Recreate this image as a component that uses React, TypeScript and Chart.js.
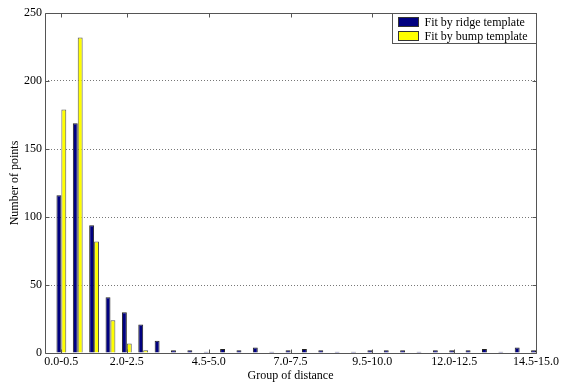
import React, { useEffect, useRef } from "react";
import { Chart, registerables } from "chart.js";

Chart.register(...registerables);

const categories = [
  "0.0-0.5", "0.5-1.0", "1.0-1.5", "1.5-2.0", "2.0-2.5", "2.5-3.0",
  "3.0-3.5", "3.5-4.0", "4.0-4.5", "4.5-5.0", "5.0-5.5", "5.5-6.0",
  "6.0-6.5", "6.5-7.0", "7.0-7.5", "7.5-8.0", "8.0-8.5", "8.5-9.0",
  "9.0-9.5", "9.5-10.0", "10.0-10.5", "10.5-11.0", "11.0-11.5", "11.5-12.0",
  "12.0-12.5", "12.5-13.0", "13.0-13.5", "13.5-14.0", "14.0-14.5", "14.5-15.0",
];
const ridgeCounts = [116, 169, 94, 41, 30, 21, 9, 2, 2, 1, 3, 2, 4, 1, 2, 3, 2, 1, 1, 2, 2, 2, 1, 2, 2, 2, 3, 1, 4, 2];
const bumpCounts = [179, 232, 82, 24, 7, 2, 0, 0, 0, 0, 0, 0, 0, 0, 0, 0, 0, 0, 0, 0, 0, 0, 0, 0, 0, 0, 0, 0, 0, 0];
const xTickPositions = [1, 5, 10, 15, 20, 25, 30];
const yTickValues = [0, 50, 100, 150, 200, 250];
const seriesLabels = ["Fit by ridge template", "Fit by bump template"];

const FONT = "'Liberation Serif', 'Times New Roman', serif";

const framePlugin = {
  id: "frame",
  afterDatasetsDraw(chart: any) {
    const { ctx, chartArea } = chart;
    const { left, right, top, bottom } = chartArea;
    const xs = chart.scales.x;
    const ys = chart.scales.y;
    ctx.save();
    ctx.strokeStyle = "#555";
    ctx.lineWidth = 1;
    ctx.setLineDash([]);
    ctx.beginPath();
    const L = Math.round(left) + 0.5;
    const R = Math.round(right) + 0.5;
    const T = Math.round(top) + 0.5;
    const B = Math.round(bottom) + 0.5;
    ctx.rect(L, T, R - L, B - T);
    const tl = 4;
    yTickValues.forEach((v) => {
      const y = Math.round(ys.getPixelForValue(v)) + 0.5;
      ctx.moveTo(L, y);
      ctx.lineTo(L + tl, y);
      ctx.moveTo(R, y);
      ctx.lineTo(R - tl, y);
    });
    xTickPositions.forEach((v) => {
      const x = Math.round(xs.getPixelForValue(v)) + 0.5;
      ctx.moveTo(x, B);
      ctx.lineTo(x, B - tl);
      ctx.moveTo(x, T);
      ctx.lineTo(x, T + tl);
    });
    ctx.stroke();
    ctx.restore();
  },
  afterDraw(chart: any) {
    const { ctx, chartArea } = chart;
    const boxR = Math.round(chartArea.right) + 0.5;
    const boxT = Math.round(chartArea.top) + 0.5;
    const boxW = 144;
    const boxH = 30;
    const boxL = boxR - boxW;
    ctx.save();
    ctx.fillStyle = "#fff";
    ctx.fillRect(boxL, boxT, boxW, boxH);
    ctx.strokeStyle = "#555";
    ctx.lineWidth = 1;
    ctx.strokeRect(boxL, boxT, boxW, boxH);
    ctx.font = "12px " + FONT;
    ctx.textBaseline = "middle";
    ctx.textAlign = "left";
    chart.data.datasets.forEach((ds: any, i: number) => {
      const sy = boxT + 4 + i * 14;
      ctx.fillStyle = ds.backgroundColor;
      ctx.fillRect(boxL + 6, sy, 20, 9);
      ctx.strokeStyle = "#333";
      ctx.strokeRect(boxL + 6, sy, 20, 9);
      ctx.fillStyle = "#000";
      ctx.fillText(ds.label, boxL + 32, sy + 5);
    });
    ctx.restore();
  },
};

export default function App() {
  const ref = useRef<HTMLCanvasElement>(null);
  useEffect(() => {
    if (!ref.current) return;
    const chart = new Chart(ref.current, {
      type: "bar",
      data: {
        datasets: [
          {
            label: seriesLabels[0],
            data: ridgeCounts.map((v, i) => ({ x: i + 1, y: v })),
            backgroundColor: "#000080",
            borderColor: "#222",
            borderWidth: 1,
            categoryPercentage: 0.6,
            barPercentage: 1,
          },
          {
            label: seriesLabels[1],
            data: bumpCounts.map((v, i) => ({ x: i + 1, y: v })),
            backgroundColor: "#ffff00",
            borderColor: "#555",
            borderWidth: 1,
            categoryPercentage: 0.6,
            barPercentage: 1,
          },
        ],
      },
      options: {
        animation: false,
        responsive: false,
        devicePixelRatio: 1,
        layout: { padding: { top: 13, right: 24, left: 0, bottom: 0 } },
        plugins: { legend: { display: false }, tooltip: { enabled: false } },
        scales: {
          x: {
            type: "linear",
            offset: false,
            min: 0,
            max: 30,
            afterBuildTicks: (s: any) => {
              s.ticks = xTickPositions.map((v) => ({ value: v }));
            },
            afterFit: (s: any) => {
              s.height = 30;
            },
            ticks: {
              autoSkip: false,
              maxRotation: 0,
              padding: 2,
              color: "#000",
              font: { family: FONT, size: 12 },
              callback: (v: any) => categories[Number(v) - 1] ?? "",
            },
            grid: { display: false, drawTicks: false, offset: false },
            border: { display: false },
            title: {
              display: true,
              text: "Group of distance",
              color: "#000",
              font: { family: FONT, size: 12 },
              padding: 0,
            },
          },
          y: {
            min: 0,
            max: 250,
            afterBuildTicks: (s: any) => {
              s.ticks = yTickValues.map((v) => ({ value: v }));
            },
            afterFit: (s: any) => {
              s.width = 45;
            },
            ticks: {
              padding: 3,
              color: "#000",
              font: { family: FONT, size: 12 },
            },
            grid: {
              drawTicks: false,
              color: (c: any) =>
                c.tick && (c.tick.value === 0 || c.tick.value === 250) ? "rgba(0,0,0,0)" : "#777",
            },
            border: { display: false, dash: [1, 2] },
            title: {
              display: true,
              text: "Number of points",
              color: "#000",
              font: { family: FONT, size: 12 },
              padding: { top: 8, bottom: 0 },
            },
          },
        },
      },
      plugins: [framePlugin],
    } as any);
    return () => chart.destroy();
  }, []);
  return (
    <div style={{ position: "absolute", left: 0, top: 0, width: 561, height: 383, background: "#fff" }}>
      <canvas ref={ref} width={561} height={383} style={{ display: "block" }} />
    </div>
  );
}
